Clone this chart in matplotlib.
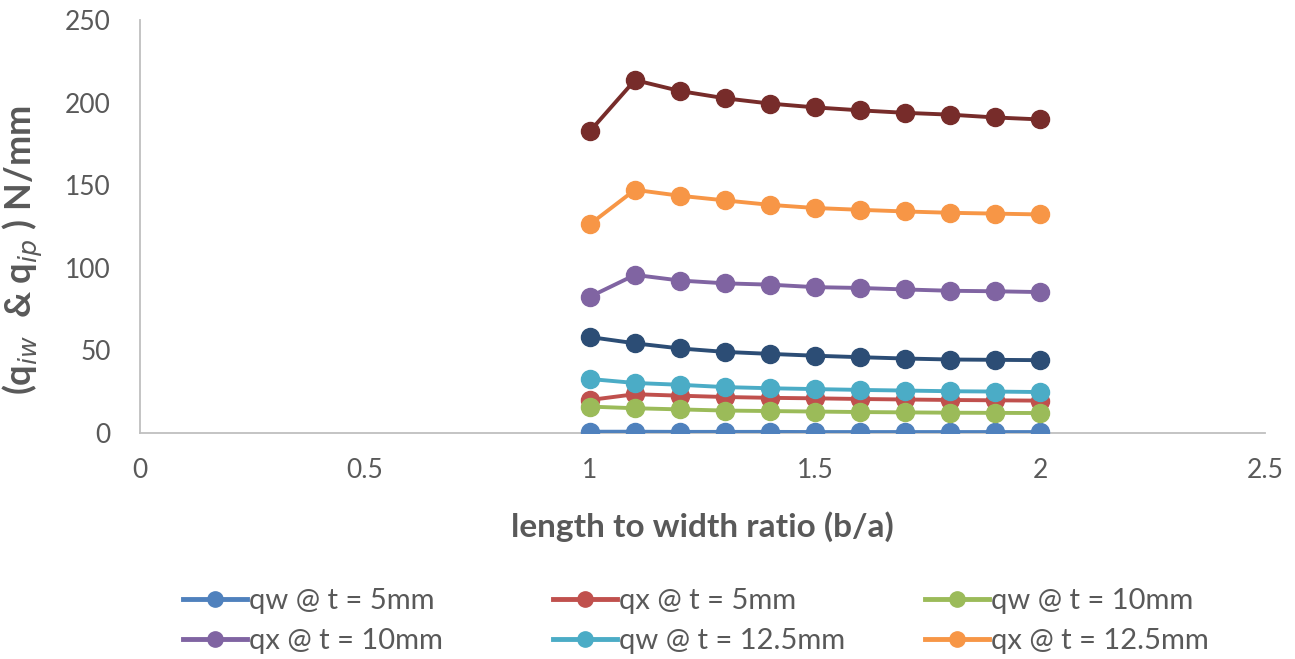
import matplotlib.pyplot as plt

ratio = [1.0, 1.1, 1.2, 1.3, 1.4, 1.5, 1.6, 1.7, 1.8, 1.9, 2.0]

qw_5 = [0.8, 0.8, 0.7, 0.7, 0.7, 0.6, 0.6, 0.6, 0.6, 0.6, 0.6]
qx_5 = [20.0, 23.5, 22.6, 21.8, 21.3, 21.0, 20.6, 20.3, 20.0, 19.8, 19.6]
qw_10 = [16.0, 15.0, 14.3, 13.6, 13.3, 13.0, 12.7, 12.5, 12.3, 12.2, 12.1]
qx_10 = [82.5, 95.7, 92.3, 90.6, 89.8, 88.3, 87.8, 86.9, 86.1, 85.8, 85.3]
qw_125 = [32.7, 30.3, 29.2, 27.8, 27.1, 26.6, 26.1, 25.7, 25.3, 25.1, 24.8]
qx_125 = [126.4, 147.2, 143.6, 140.8, 138.1, 136.2, 135.1, 134.1, 133.3, 132.8, 132.3]
qw_15 = [58.1, 54.3, 51.2, 49.1, 47.9, 46.8, 45.9, 45.1, 44.5, 44.3, 44.1]
qx_15 = [182.7, 213.6, 207.0, 202.6, 199.4, 197.1, 195.3, 193.8, 192.7, 191.0, 189.8]

series = [
    ("qw @ t = 5mm", qw_5, "#4F81BD"),
    ("qx @ t = 5mm", qx_5, "#C0504D"),
    ("qw @ t = 10mm", qw_10, "#9BBB59"),
    ("qx @ t = 10mm", qx_10, "#8064A2"),
    ("qw @ t = 12.5mm", qw_125, "#4BACC6"),
    ("qx @ t = 12.5mm", qx_125, "#F79646"),
    ("qw @ t = 15mm", qw_15, "#2C4D75"),
    ("qx @ t = 15mm", qx_15, "#772C2A"),
]

plt.rcParams["font.family"] = ["Lato", "DejaVu Sans"]
grey = "#595959"

fig = plt.figure(figsize=(12.95, 6.59), dpi=100)
ax = fig.add_axes([0.1081, 0.3429, 0.8687, 0.6268])

handles = []
for label, vals, color in series:
    h, = ax.plot(ratio, vals, color=color, lw=2.8, marker="o", ms=13,
                 label=label, zorder=3)
    handles.append(h)

ax.set_xlim(0, 2.5)
ax.set_ylim(0, 250)
ax.set_xticks([0, 0.5, 1, 1.5, 2, 2.5])
ax.set_xticklabels(["0", "0.5", "1", "1.5", "2", "2.5"])
ax.set_yticks([0, 50, 100, 150, 200, 250])
ax.tick_params(length=0, labelsize=19, colors=grey)
ax.tick_params(axis="y", pad=21)
ax.tick_params(axis="x", pad=18)
for s in ["top", "right"]:
    ax.spines[s].set_visible(False)
for s in ["left", "bottom"]:
    ax.spines[s].set_color("#BFBFBF")
    ax.spines[s].set_linewidth(1.3)

ax.set_xlabel("length to width ratio (b/a)", fontsize=24, fontweight="bold",
              color=grey)
ax.xaxis.set_label_coords(0.5, -0.19)
ax.set_ylabel(r"(q$_{\mathit{iw}}$  & q$_{\mathit{ip}}$ ) N/mm", fontsize=26,
              fontweight="bold", color=grey)
ax.yaxis.set_label_coords(-0.084, 0.443)

# Excel-style legend: three equal-width columns, two rows each
col_x = [0.121, 0.407, 0.694]
for c in range(3):
    idx = [c, c + 3]
    leg = fig.legend([handles[i] for i in idx], [series[i][0] for i in idx],
                     loc="upper left", bbox_to_anchor=(col_x[c], 0.148),
                     frameon=False, fontsize=21, handlelength=2.2,
                     labelspacing=0.5, handletextpad=0.05)
    for t in leg.get_texts():
        t.set_color(grey)
    for h in leg.legend_handles:
        h.set_markersize(11)
        h.set_linewidth(3.5)

fig.savefig("out.png", dpi=100)
